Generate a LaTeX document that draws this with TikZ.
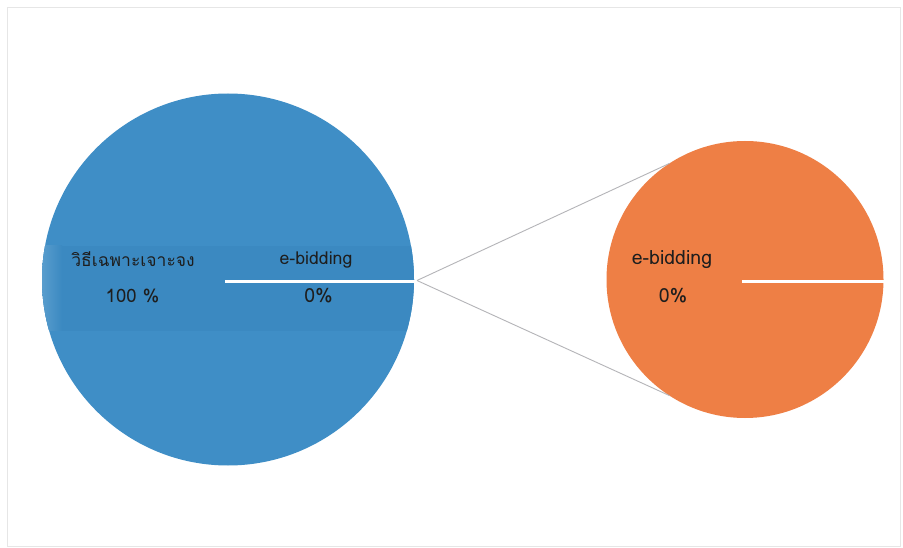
\documentclass[tikz,border=0pt]{standalone}
\usepackage{fontspec}
\newfontfamily\thaifont[Script=Thai]{Loma}
\definecolor{pieblue}{HTML}{3F8EC6}
\definecolor{bandblue}{HTML}{3B89C1}
\definecolor{pieorange}{HTML}{EE7F45}
\definecolor{linkgray}{HTML}{B4B4B8}
\definecolor{framegray}{HTML}{E6E6E6}
\definecolor{labelcol}{HTML}{1E1E1E}
\tikzset{
  pie/.style={circle, inner sep=0pt, outer sep=0pt, draw=none},
  lab/.style={text=labelcol, inner sep=0pt, anchor=center},
  thailab/.style={lab, font=\thaifont\fontsize{17.5}{20}\selectfont},
  wordlab/.style={lab, font=\thaifont\fontsize{#1}{22}\selectfont},
  numlab/.style={lab, font=\thaifont\fontsize{#1}{22}\selectfont},
  sep/.style={draw=white, line width=3pt},
  link/.style={draw=linkgray, line width=0.9pt}
}
\begin{document}
\begin{tikzpicture}[x=1pt,y=-1pt]
\useasboundingbox (0,0) rectangle (903,548);
\fill[white] (0,0) rectangle (903,548);
\draw[framegray, line width=0.6pt] (7,7) rectangle (900,546);
\node[pie, fill=pieblue, minimum size=372pt] (pieA) at (228,279.5) {};
\begin{scope}
  \clip (228,279.5) circle (186);
  \fill[bandblue] (30,246) rectangle (420,331);
  \shade[left color=white!15!pieblue, right color=bandblue] (40,246) rectangle (62,331);
\end{scope}
\node[pie, fill=pieorange, minimum size=277pt] (pieB) at (745,279.5) {};
\coordinate (apex) at ([xshift=3pt,yshift=-1pt]pieA.east);
\draw[sep] ([xshift=-3pt,yshift=-2pt]pieA.center) -- ([yshift=-2pt]pieA.east);
\draw[sep] ([xshift=-3pt,yshift=-2pt]pieB.center) -- ([yshift=-2pt]pieB.east);
\draw[link] (apex) -- (pieB.123);
\draw[link] (apex) -- (pieB.237);
\node[thailab] (l1) at (133,259.5) {วิธีเฉพาะเจาะจง};
\node[numlab=18.5] (p1) at (132.5,296) {100 \%};
\node[wordlab=17.7] (l2) at (316,260) {e-bidding};
\node[numlab=19.5] (p2) at (318.5,296) {0\%};
\node[wordlab=19.5] (l3) at (672,260) {e-bidding};
\node[numlab=19.5] (p3) at (673,296) {0\%};
\end{tikzpicture}
\end{document}
